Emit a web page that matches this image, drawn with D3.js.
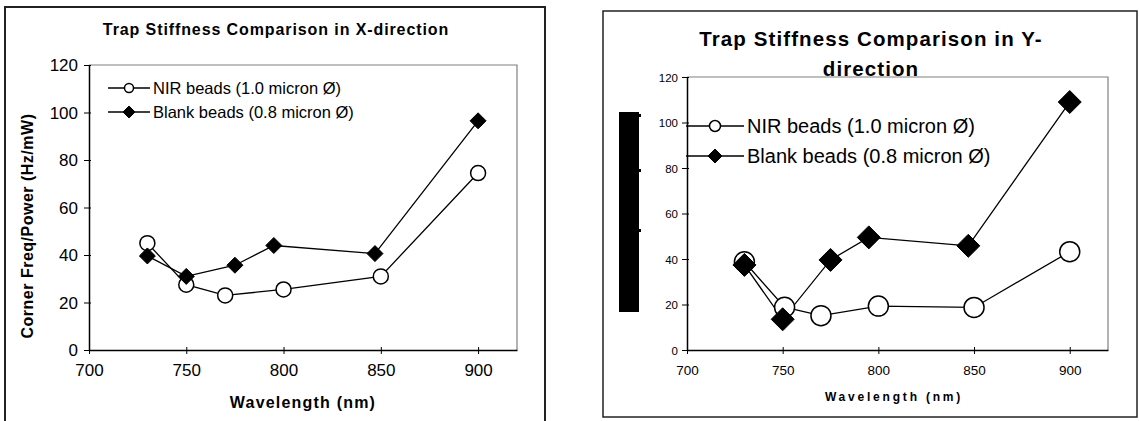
<!DOCTYPE html>
<html>
<head>
<meta charset="utf-8">
<script src="https://cdn.jsdelivr.net/npm/d3@7"></script>
<style>
  body { margin: 0; background: #fff; }
  svg { display: block; font-family: Arial, "Liberation Sans", sans-serif; }
</style>
</head>
<body>
<svg id="chart" width="1139" height="421"></svg>
<script>
// x-direction data (wavelength nm, corner freq / power)
const xNirWave = [730, 750, 770, 800, 850, 900];
const xNirVal = [45, 27.5, 23, 25.5, 31, 74.5];
const xBlankWave = [730, 750, 775, 795, 847, 900];
const xBlankVal = [39.6, 31, 35.7, 44, 40.6, 96.5];

// y-direction data
const yNirWave = [730, 751, 770, 800, 850, 900];
const yNirVal = [38.8, 18.8, 15.1, 19.3, 18.7, 43.2];
const yBlankWave = [730, 750, 775, 795, 847, 900];
const yBlankVal = [37.4, 13.5, 39.6, 49.5, 45.8, 109];

const xTicks = [700, 750, 800, 850, 900];
const yTicks = [0, 20, 40, 60, 80, 100, 120];
const legendLabels = ['NIR beads (1.0 micron Ø)', 'Blank beads (0.8 micron Ø)'];

const svg = d3.select('#chart');

function zip(w, v) {
    return w.map((d, i) => [d, v[i]]);
}

function draw_chart(c) {
    let g = svg.append('g');

    // outer frame
    g.append('rect')
        .attr('x', c.frame[0]).attr('y', c.frame[1])
        .attr('width', c.frame[2]).attr('height', c.frame[3])
        .attr('fill', 'none').attr('stroke', '#222').attr('stroke-width', c.frameWidth);

    let x = d3.scaleLinear().domain([700, 920]).range([c.left, c.right]);
    let y = d3.scaleLinear().domain([0, 120]).range([c.bottom, c.top]);

    // plot area border (grey top / right)
    g.append('path')
        .attr('d', `M${c.left},${c.top}H${c.right}V${c.bottom}`)
        .attr('fill', 'none').attr('stroke', '#808080').attr('stroke-width', 1.2);

    // axes
    let xa = g.append('g')
        .attr('transform', `translate(0,${c.bottom})`)
        .call(d3.axisBottom(x).tickValues(xTicks).tickSize(0).tickPadding(c.xPad));
    xa.selectAll('.tick').append('line')
        .attr('y1', -3).attr('y2', 4).attr('stroke', '#000');
    let ya = g.append('g')
        .attr('transform', `translate(${c.left},0)`)
        .call(d3.axisLeft(y).tickValues(yTicks).tickSize(0).tickPadding(c.yPad));
    ya.selectAll('.tick').append('line')
        .attr('x1', -5).attr('x2', 2).attr('stroke', '#000');
    [xa, ya].forEach(a => {
        a.select('.domain').attr('stroke', '#000').attr('stroke-width', 1.5);
        a.selectAll('text').attr('fill', '#000').style('font-family', 'Arial, "Liberation Sans", sans-serif');
    });
    xa.selectAll('text').style('font-size', c.xTickSize + 'px');
    ya.selectAll('text').style('font-size', c.yTickSize + 'px').attr('dy', '0.35em');

    // title
    c.title.forEach((t, i) => {
        g.append('text')
            .attr('x', c.titleX).attr('y', c.titleY + i * c.titleGap)
            .attr('text-anchor', 'middle')
            .style('font-size', c.titleSize + 'px').style('font-weight', 'bold')
            .style('letter-spacing', c.titleSpacing + 'px')
            .text(t);
    });

    // x title
    g.append('text')
        .attr('x', c.xTitleX).attr('y', c.xTitleY)
        .attr('text-anchor', 'middle')
        .style('font-size', c.xTitleSize + 'px').style('font-weight', 'bold')
        .style('letter-spacing', c.xTitleSpacing + 'px')
        .text('Wavelength (nm)');

    // lines + markers
    let line = d3.line().x(d => x(d[0])).y(d => y(d[1]));
    let series = [
        { data: zip(c.nirW, c.nirV), shape: 'circle' },
        { data: zip(c.blankW, c.blankV), shape: 'diamond' }
    ];
    series.forEach(s => {
        g.append('path').datum(s.data)
            .attr('d', line).attr('fill', 'none')
            .attr('stroke', '#000').attr('stroke-width', 1.3);
    });
    series.forEach(s => {
        draw_markers(g, s.data.map(d => [x(d[0]), y(d[1])]), s.shape, s.shape == 'circle' ? c.circleR : c.diamondR);
    });

    // legend
    legendLabels.forEach((lab, i) => {
        let ly = c.legY + i * c.legGap;
        g.append('line')
            .attr('x1', c.legX1).attr('x2', c.legX2)
            .attr('y1', ly).attr('y2', ly)
            .attr('stroke', '#000').attr('stroke-width', 1.3);
        draw_markers(g, [[(c.legX1 + c.legX2) / 2, ly]], i == 0 ? 'circle' : 'diamond',
            i == 0 ? c.legCircleR : c.legDiamondR);
        g.append('text')
            .attr('x', c.legX2 + 3).attr('y', ly).attr('dy', '0.35em')
            .style('font-size', c.legSize + 'px')
            .text(lab);
    });
    return g;
}

function draw_markers(g, pts, shape, r) {
    if (shape == 'circle') {
        g.selectAll(null).data(pts).enter().append('circle')
            .attr('cx', d => d[0]).attr('cy', d => d[1]).attr('r', r)
            .attr('fill', '#fff').attr('stroke', '#000').attr('stroke-width', 1.5);
    } else {
        g.selectAll(null).data(pts).enter().append('path')
            .attr('d', d => `M${d[0]},${d[1] - r}L${d[0] + r},${d[1]}L${d[0]},${d[1] + r}L${d[0] - r},${d[1]}Z`)
            .attr('fill', '#000').attr('stroke', '#000').attr('stroke-width', 1);
    }
}

// left chart: X-direction
let gl = draw_chart({
    frame: [5, 7, 540, 430], frameWidth: 2,
    left: 89, right: 517, top: 65, bottom: 350,
    xPad: 14, yPad: 11, xTickSize: 17, yTickSize: 17,
    title: ['Trap Stiffness Comparison in X-direction'], titleX: 276, titleY: 35, titleGap: 0,
    titleSize: 16, titleSpacing: 0.9,
    xTitleX: 303, xTitleY: 408, xTitleSize: 16, xTitleSpacing: 1.2,
    nirW: xNirWave, nirV: xNirVal, blankW: xBlankWave, blankV: xBlankVal,
    circleR: 7.5, diamondR: 8,
    legX1: 108, legX2: 150, legY: 88, legGap: 24, legSize: 16.5, legCircleR: 4.5, legDiamondR: 6
});
gl.append('text')
    .attr('transform', 'translate(33,226) rotate(-90)')
    .attr('text-anchor', 'middle')
    .style('font-size', '16px').style('font-weight', 'bold')
    .style('letter-spacing', '0.5px')
    .text('Corner Freq/Power (Hz/mW)');

// right chart: Y-direction
let gr = draw_chart({
    frame: [603, 11, 534, 406], frameWidth: 1.5,
    left: 687, right: 1108, top: 77, bottom: 350,
    xPad: 15, yPad: 9, xTickSize: 13.5, yTickSize: 11.5,
    title: ['Trap Stiffness Comparison in Y-', 'direction'], titleX: 871, titleY: 46, titleGap: 30,
    titleSize: 20.5, titleSpacing: 1.1,
    xTitleX: 894, xTitleY: 401, xTitleSize: 12, xTitleSpacing: 2.8,
    nirW: yNirWave, nirV: yNirVal, blankW: yBlankWave, blankV: yBlankVal,
    circleR: 10, diamondR: 11.5,
    legX1: 686, legX2: 744, legY: 126, legGap: 30, legSize: 20, legCircleR: 5.5, legDiamondR: 7
});
// unreadable y-axis title (rendered as solid block)
gr.append('rect')
    .attr('x', 619).attr('y', 112).attr('width', 20).attr('height', 200)
    .attr('fill', '#000');
gr.selectAll(null).data([115, 170, 230]).enter().append('rect')
    .attr('x', 639).attr('y', d => d - 1).attr('width', 2).attr('height', 3)
    .attr('fill', '#000');
</script>
</body>
</html>
